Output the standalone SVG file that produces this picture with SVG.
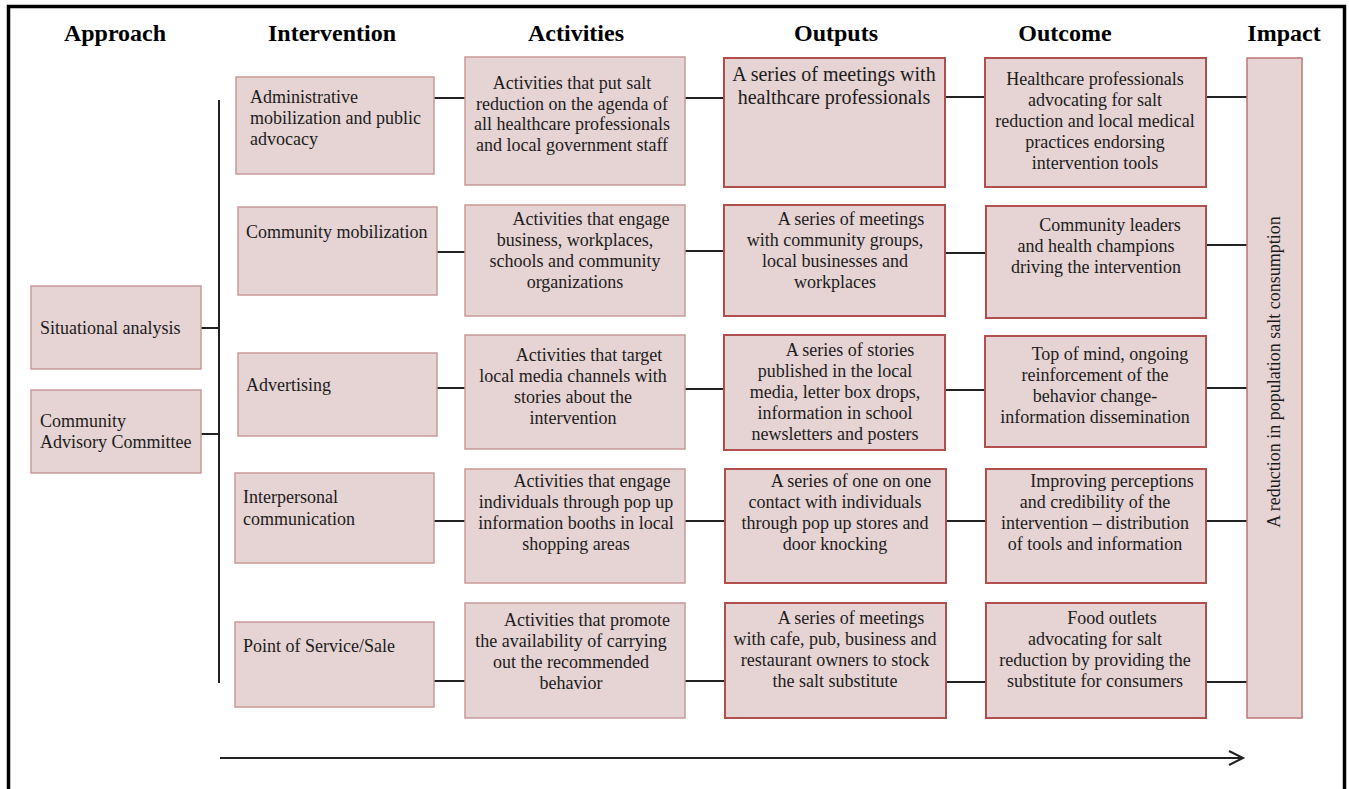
<svg xmlns="http://www.w3.org/2000/svg" width="1349" height="789" viewBox="0 0 1349 789">
<style>
.box{fill:#e6d3d3;stroke:#c99a9a;stroke-width:1.5}
.box2{fill:#e6d3d3;stroke:#b14f4f;stroke-width:2}
.t{font-family:"Liberation Serif","Times New Roman",serif;font-size:18px;fill:#1c1c1c}
.c{text-anchor:middle}
.big{font-size:20px}
.h{font-family:"Liberation Serif","Times New Roman",serif;font-weight:bold;font-size:24px;text-anchor:middle;fill:#000}
.ln{stroke:#222;stroke-width:2;fill:none}
</style>
<rect x="0" y="0" width="1349" height="789" fill="#fff"/>
<path d="M8.5,795 V6.5 H1344.5 V795" fill="none" stroke="#000" stroke-width="3.5"/>
<g id="headers">
<text class="h" x="115" y="41">Approach</text>
<text class="h" x="332" y="41">Intervention</text>
<text class="h" x="576" y="41">Activities</text>
<text class="h" x="836" y="41">Outputs</text>
<text class="h" x="1065" y="41">Outcome</text>
<text class="h" x="1284" y="41">Impact</text>
</g>
<g id="connectors">
<path class="ln" d="M219,100 V683"/>
<path class="ln" d="M201,328 H219 M201,434 H219"/>
<path class="ln" d="M434,98 H465 M685,98 H724 M945,97 H985 M1206,97 H1247"/>
<path class="ln" d="M437,252 H465 M685,251 H724 M945,253 H985 M1206,245 H1247"/>
<path class="ln" d="M437,388 H465 M685,389 H724 M945,390 H985 M1206,388 H1247"/>
<path class="ln" d="M434,521 H465 M685,521 H724 M945,521 H985 M1206,521 H1247"/>
<path class="ln" d="M434,681 H465 M685,681 H724 M945,682 H985 M1206,682 H1247"/>
<path class="ln" d="M220,758 H1243 M1229,751 L1243,758 L1229,765"/>
</g>
<g id="approach-situational">
<rect class="box" x="31" y="286" width="170" height="83"/>
<text class="t" x="40" y="334">Situational analysis</text>
</g>
<g id="approach-committee">
<rect class="box" x="31" y="390" width="170" height="83"/>
<text class="t" x="40" y="427">Community</text>
<text class="t" x="40" y="448">Advisory Committee</text>
</g>
<g id="int-1">
<rect class="box" x="236" y="77" width="198" height="97"/>
<text class="t" x="250" y="103">Administrative</text>
<text class="t" x="250" y="124">mobilization and public</text>
<text class="t" x="250" y="145">advocacy</text>
</g>
<g id="int-2">
<rect class="box" x="238" y="207" width="199" height="88"/>
<text class="t" x="246" y="238">Community mobilization</text>
</g>
<g id="int-3">
<rect class="box" x="238" y="353" width="199" height="83"/>
<text class="t" x="246" y="391">Advertising</text>
</g>
<g id="int-4">
<rect class="box" x="235" y="473" width="199" height="90"/>
<text class="t" x="243" y="503">Interpersonal</text>
<text class="t" x="243" y="525">communication</text>
</g>
<g id="int-5">
<rect class="box" x="235" y="622" width="199" height="85"/>
<text class="t" x="243" y="652">Point of Service/Sale</text>
</g>
<g id="act-1">
<rect class="box" x="465" y="57" width="220" height="128"/>
<text class="t c" x="572" y="89">Activities that put salt</text>
<text class="t c" x="572" y="110">reduction on the agenda of</text>
<text class="t c" x="572" y="130">all healthcare professionals</text>
<text class="t c" x="572" y="151">and local government staff</text>
</g>
<g id="act-2">
<rect class="box" x="465" y="205" width="220" height="111"/>
<text class="t c" x="591" y="225">Activities that engage</text>
<text class="t c" x="575" y="246">business, workplaces,</text>
<text class="t c" x="575" y="267">schools and community</text>
<text class="t c" x="575" y="288">organizations</text>
</g>
<g id="act-3">
<rect class="box" x="465" y="335" width="220" height="114"/>
<text class="t c" x="589" y="361">Activities that target</text>
<text class="t c" x="573" y="382">local media channels with</text>
<text class="t c" x="573" y="403">stories about the</text>
<text class="t c" x="573" y="424">intervention</text>
</g>
<g id="act-4">
<rect class="box" x="465" y="469" width="220" height="114"/>
<text class="t c" x="592" y="487">Activities that engage</text>
<text class="t c" x="576" y="508">individuals through pop up</text>
<text class="t c" x="576" y="529">information booths in local</text>
<text class="t c" x="576" y="550">shopping areas</text>
</g>
<g id="act-5">
<rect class="box" x="465" y="603" width="220" height="115"/>
<text class="t c" x="587" y="626">Activities that promote</text>
<text class="t c" x="571" y="647">the availability of carrying</text>
<text class="t c" x="571" y="668">out the recommended</text>
<text class="t c" x="571" y="689">behavior</text>
</g>
<g id="out-1">
<rect class="box2" x="724" y="58" width="221" height="129"/>
<text class="t c big" x="834" y="81">A series of meetings with</text>
<text class="t c big" x="834" y="104">healthcare professionals</text>
</g>
<g id="out-2">
<rect class="box2" x="724" y="205" width="221" height="111"/>
<text class="t c" x="851" y="225">A series of meetings</text>
<text class="t c" x="835" y="246">with community groups,</text>
<text class="t c" x="835" y="267">local businesses and</text>
<text class="t c" x="835" y="288">workplaces</text>
</g>
<g id="out-3">
<rect class="box2" x="724" y="335" width="221" height="115"/>
<text class="t c" x="850" y="356">A series of stories</text>
<text class="t c" x="835" y="377">published in the local</text>
<text class="t c" x="835" y="398">media, letter box drops,</text>
<text class="t c" x="835" y="419">information in school</text>
<text class="t c" x="835" y="440">newsletters and posters</text>
</g>
<g id="out-4">
<rect class="box2" x="725" y="469" width="221" height="114"/>
<text class="t c" x="851" y="487">A series of one on one</text>
<text class="t c" x="835" y="508">contact with individuals</text>
<text class="t c" x="835" y="529">through pop up stores and</text>
<text class="t c" x="835" y="550">door knocking</text>
</g>
<g id="out-5">
<rect class="box2" x="725" y="603" width="221" height="115"/>
<text class="t c" x="851" y="624">A series of meetings</text>
<text class="t c" x="835" y="645">with cafe, pub, business and</text>
<text class="t c" x="835" y="666">restaurant owners to stock</text>
<text class="t c" x="835" y="687">the salt substitute</text>
</g>
<g id="outc-1">
<rect class="box2" x="985" y="58" width="221" height="129"/>
<text class="t c" x="1095" y="85">Healthcare professionals</text>
<text class="t c" x="1095" y="106">advocating for salt</text>
<text class="t c" x="1095" y="127">reduction and local medical</text>
<text class="t c" x="1095" y="148">practices endorsing</text>
<text class="t c" x="1095" y="169">intervention tools</text>
</g>
<g id="outc-2">
<rect class="box2" x="986" y="206" width="220" height="112"/>
<text class="t c" x="1110" y="231">Community leaders</text>
<text class="t c" x="1096" y="252">and health champions</text>
<text class="t c" x="1096" y="273">driving the intervention</text>
</g>
<g id="outc-3">
<rect class="box2" x="985" y="336" width="221" height="111"/>
<text class="t c" x="1110" y="360">Top of mind, ongoing</text>
<text class="t c" x="1095" y="381">reinforcement of the</text>
<text class="t c" x="1095" y="402">behavior change-</text>
<text class="t c" x="1095" y="423">information dissemination</text>
</g>
<g id="outc-4">
<rect class="box2" x="986" y="469" width="220" height="114"/>
<text class="t c" x="1112" y="487">Improving perceptions</text>
<text class="t c" x="1095" y="508">and credibility of the</text>
<text class="t c" x="1095" y="529">intervention – distribution</text>
<text class="t c" x="1095" y="550">of tools and information</text>
</g>
<g id="outc-5">
<rect class="box2" x="986" y="603" width="220" height="115"/>
<text class="t c" x="1112" y="624">Food outlets</text>
<text class="t c" x="1095" y="645">advocating for salt</text>
<text class="t c" x="1095" y="666">reduction by providing the</text>
<text class="t c" x="1095" y="687">substitute for consumers</text>
</g>
<g id="impact">
<rect class="box" x="1247" y="58" width="55" height="660" style="stroke:#c07474"/>
<text class="t c" transform="translate(1280,372) rotate(-90)" x="0" y="0">A reduction in population salt consumption</text>
</g>
</svg>
